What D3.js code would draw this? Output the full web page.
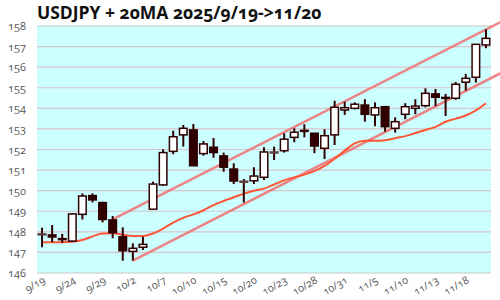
<!DOCTYPE html>
<html><head><meta charset="utf-8">
<script src="https://cdn.jsdelivr.net/npm/d3@7"></script>
<style>
html,body{margin:0;padding:0;background:#fff;}
svg text{font-family:"Open Sans",sans-serif;font-variant-numeric:oldstyle-nums;font-feature-settings:"onum" 1;}
</style></head>
<body><svg id="c" width="500" height="300"></svg>
<script>
const titleText = "USDJPY + 20MA 2025/9/19->11/20";
const dates = ["9/19","9/22","9/23","9/24","9/25","9/26","9/29","9/30","10/1","10/2","10/3","10/6","10/7","10/8","10/9","10/10","10/13","10/14","10/15","10/16","10/17","10/20","10/21","10/22","10/23","10/24","10/27","10/28","10/29","10/30","10/31","11/3","11/4","11/5","11/6","11/7","11/10","11/11","11/12","11/13","11/14","11/17","11/18","11/19","11/20"];
const opens  = [147.9,147.85,147.67,147.55,148.85,149.76,149.42,148.58,147.76,147.05,147.25,149.1,150.28,151.91,152.71,152.95,151.8,152.11,151.69,151.05,150.46,150.48,150.65,151.88,151.94,152.59,152.93,152.79,152.06,152.71,153.92,154.0,154.16,153.68,154.08,153.03,153.71,154.0,154.13,154.7,154.53,154.49,155.27,155.51,157.08];
const highs  = [148.2,148.33,147.9,148.9,149.87,149.87,149.46,148.77,148.22,147.44,147.76,150.44,152.01,152.91,153.19,153.24,152.41,152.56,151.85,151.33,150.57,151.14,152.11,152.14,152.79,153.03,153.23,152.79,152.98,154.37,154.32,154.29,154.45,154.29,154.08,153.56,154.25,154.44,154.97,154.94,154.7,155.28,155.67,157.11,157.84];
const lows   = [147.25,147.5,147.47,147.52,148.6,149.43,148.46,147.69,146.6,146.6,147.12,149.1,150.23,151.77,152.14,151.21,151.7,151.6,150.92,150.32,149.42,150.32,150.52,151.49,151.85,152.35,152.59,151.82,151.54,152.22,153.68,153.95,153.35,153.13,152.87,152.82,153.47,153.71,154.05,154.11,153.63,154.41,154.86,155.25,156.92];
const closes = [147.9,147.75,147.63,148.87,149.74,149.55,148.6,147.96,147.08,147.2,147.39,150.32,151.85,152.62,153.03,151.21,152.27,151.85,151.14,150.47,150.46,150.71,151.88,151.88,152.5,152.84,152.9,152.17,152.67,154.05,154.03,154.2,153.71,154.03,153.11,153.35,154.08,154.11,154.73,154.54,154.5,155.17,155.46,157.11,157.4];
const ma20   = [147.5,147.5,147.5,147.52,147.6,147.78,147.92,147.93,147.86,147.8,147.8,147.92,148.16,148.45,148.68,148.85,149.05,149.3,149.5,149.68,149.85,150.0,150.1,150.3,150.5,150.65,150.78,150.95,151.2,151.55,151.95,152.3,152.42,152.42,152.45,152.55,152.65,152.8,152.95,153.1,153.35,153.5,153.65,153.9,154.25];
const channelUpper = [[7,148.6],[45.5,158.2]];
const channelLower = [[9,146.6],[45.5,155.72]];
const yTicks = [146,147,148,149,150,151,152,153,154,155,156,157,158];
const xTickEvery = 3;

const svg = d3.select("#c");
const L=37,R=491,T=26,B=273;
const xb = d3.scaleBand().domain(dates).range([L,R]).paddingInner(0.25).paddingOuter(0.125);
const xi = d3.scaleLinear().domain([-0.5, dates.length-0.5]).range([L,R]);
const y = d3.scaleLinear().domain([146,158]).range([B,T]);

svg.append("rect").attr("x",L).attr("y",T).attr("width",R-L).attr("height",B-T).attr("fill","#ccffff");

svg.append("g").selectAll("line").data(yTicks).join("line")
  .attr("x1",L).attr("x2",R).attr("y1",d=>y(d)).attr("y2",d=>y(d))
  .attr("stroke",d=>(d===158||d===146)?"#c8c8c8":"#d8c4ca").attr("stroke-width",1.2);

const ya = d3.axisLeft(y).tickValues(yTicks).tickSize(0).tickPadding(0).tickFormat(d3.format("d"));
const gy = svg.append("g").attr("transform",`translate(${L-11},0)`).call(ya);
gy.select(".domain").remove();
gy.selectAll("text").attr("font-size",11).attr("fill","#555").attr("font-family","Open Sans");

const xa = d3.axisBottom(xb).tickValues(dates.filter((d,i)=>i%xTickEvery===0)).tickSize(0).tickPadding(0);
const gx = svg.append("g").attr("transform",`translate(0,${B+6})`).call(xa);
gx.select(".domain").remove();
gx.selectAll("text").attr("font-size",10.5).attr("fill","#555")
  .attr("text-anchor","end").attr("dy","0.35em")
  .attr("transform","translate(2,0) rotate(-30)");

const line = d3.line().x(d=>xi(d[0])).y(d=>y(d[1]));
[channelUpper,channelLower].forEach(c=>{
  svg.append("path").attr("d",line(c)).attr("fill","none").attr("stroke","#f07070").attr("stroke-opacity",0.85).attr("stroke-width",2.5);
});
svg.append("path").attr("d",d3.line().x((d,i)=>xi(i)).y(d=>y(d)).curve(d3.curveMonotoneX)(ma20))
  .attr("fill","none").attr("stroke","#ff5535").attr("stroke-width",2);

const data = dates.map((d,i)=>({d,o:opens[i],h:highs[i],l:lows[i],c:closes[i]}));
const bw = xb.bandwidth();
const g = svg.append("g");
g.selectAll("line.w").data(data).join("line").attr("class","w")
  .attr("x1",d=>xb(d.d)+bw/2).attr("x2",d=>xb(d.d)+bw/2)
  .attr("y1",d=>y(d.h)).attr("y2",d=>y(d.l)).attr("stroke","#300000").attr("stroke-width",2);
g.selectAll("rect.b").data(data).join("rect").attr("class","b")
  .attr("x",d=>xb(d.d)).attr("width",bw)
  .attr("y",d=>y(Math.max(d.o,d.c)))
  .attr("height",d=>Math.max(1,Math.abs(y(d.o)-y(d.c))))
  .attr("fill",d=>d.c>d.o?"#ffffff":(d.c<d.o?"#300000":"#b8a4a4"))
  .attr("stroke",d=>d.c===d.o?"#604040":"#300000").attr("stroke-width",1.5);

svg.append("text").attr("x",L).attr("y",19).attr("font-size",17.5).attr("font-weight","bold").attr("fill","#111").text(titleText);
</script></body></html>
